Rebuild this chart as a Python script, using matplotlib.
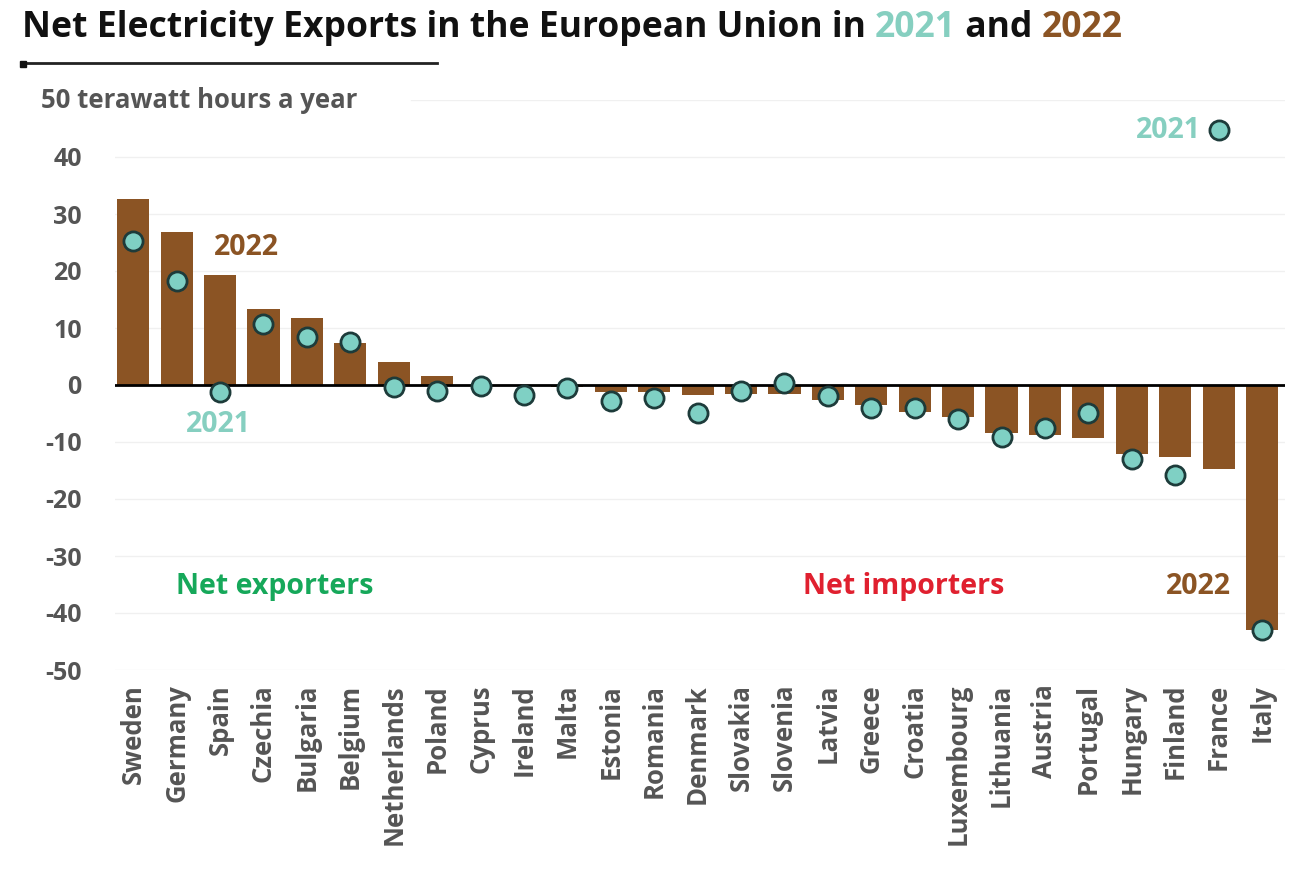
import numpy as np
import matplotlib.pyplot as plt
from matplotlib.lines import Line2D

plt.rcParams['font.family'] = ['Open Sans', 'DejaVu Sans']

countries = ['Sweden', 'Germany', 'Spain', 'Czechia', 'Bulgaria', 'Belgium', 'Netherlands',
             'Poland', 'Cyprus', 'Ireland', 'Malta', 'Estonia', 'Romania', 'Denmark',
             'Slovakia', 'Slovenia', 'Latvia', 'Greece', 'Croatia', 'Luxembourg',
             'Lithuania', 'Austria', 'Portugal', 'Hungary', 'Finland', 'France', 'Italy']
net_2022 = [32.6, 26.8, 19.3, 13.3, 11.7, 7.4, 4.1, 1.6, 0.0, 0.0, -0.3, -1.2, -1.3, -1.7,
            -1.5, -1.5, -2.7, -3.5, -4.8, -5.7, -8.5, -8.8, -9.3, -12.1, -12.6, -14.8, -43.0]
net_2021 = [25.2, 18.2, -1.2, 10.7, 8.4, 7.5, -0.4, -1.0, -0.1, -1.8, -0.5, -2.8, -2.3, -4.9,
            -1.0, 0.4, -1.9, -4.0, -4.0, -5.9, -9.1, -7.6, -4.9, -12.9, -15.8, 44.7, -42.9]
yticks = [40, 30, 20, 10, 0, -10, -20, -30, -40, -50]

brown = '#8b5424'
teal = '#7fd0c4'
teal_txt = '#86cfc0'
grey = '#555555'

fig = plt.figure(figsize=(12.96, 8.69), dpi=100)
ax = fig.add_axes([115 / 1296, 1 - 670 / 869, (1285 - 115) / 1296, (670 - 100) / 869])

x = np.arange(len(countries))
ax.bar(x, net_2022, width=0.74, color=brown, zorder=2)
ax.scatter(x, net_2021, s=190, color=teal, edgecolor='#1d3b3a', linewidth=2, zorder=4)
ax.axhline(0, color='black', lw=2, zorder=3)

for v in yticks:
    if v != 0:
        ax.axhline(v, color='#f0f0f0', lw=1, zorder=1)
ax.plot([6.4, 26.53], [50, 50], color='#f0f0f0', lw=1, zorder=1)

ax.set_xlim(-0.42, 26.53)
ax.set_ylim(-50, 50)
ax.set_yticks(yticks)
ax.set_yticklabels([str(v) for v in yticks], fontsize=18, fontweight='bold', color=grey)
ax.set_xticks(x)
ax.set_xticklabels(countries, rotation=90, fontsize=18.5, fontweight='bold', color=grey)
ax.tick_params(length=0)
ax.tick_params(axis='y', pad=24)
ax.tick_params(axis='x', pad=10)
for s in ax.spines.values():
    s.set_visible(False)

ax.text(-2.12, 50, '50 terawatt hours a year', fontsize=18.5, fontweight='bold', color=grey,
        ha='left', va='center')

ax.text(2.6, 24.2, '2022', fontsize=20.5, fontweight='bold', color=brown, ha='center', va='center')
ax.text(1.96, -6.9, '2021', fontsize=20.5, fontweight='bold', color=teal_txt, ha='center', va='center')
ax.text(3.27, -35.4, 'Net exporters', fontsize=20.5, fontweight='bold', color='#16a85a',
        ha='center', va='center')
ax.text(17.74, -35.4, 'Net importers', fontsize=20.5, fontweight='bold', color='#e0202f',
        ha='center', va='center')
ax.text(24.54, -35.4, '2022', fontsize=20.5, fontweight='bold', color=brown, ha='center', va='center')
ax.text(24.6, 44.7, '2021', fontsize=20.5, fontweight='bold', color=teal_txt, ha='right', va='center')

# title in three colours, pieces placed one after another
ty = 1 - 28 / 869
parts = [('Net Electricity Exports in the European Union in ', '#111111'), ('2021', teal_txt),
         (' and ', '#111111'), ('2022', brown)]
xpos = 22 / 1296
for txt, col in parts:
    t = fig.text(xpos, ty, txt, fontsize=25.6, fontweight='bold', color=col, ha='left', va='center')
    fig.canvas.draw()
    xpos = t.get_window_extent().x1 / fig.bbox.width

fig.add_artist(Line2D([22 / 1296, 437 / 1296], [1 - 63 / 869] * 2, color='#222222', lw=2))
fig.add_artist(Line2D([23 / 1296], [1 - 64 / 869], marker='s', markersize=5, color='#111111'))

fig.savefig('out.png', dpi=100, facecolor='white')
